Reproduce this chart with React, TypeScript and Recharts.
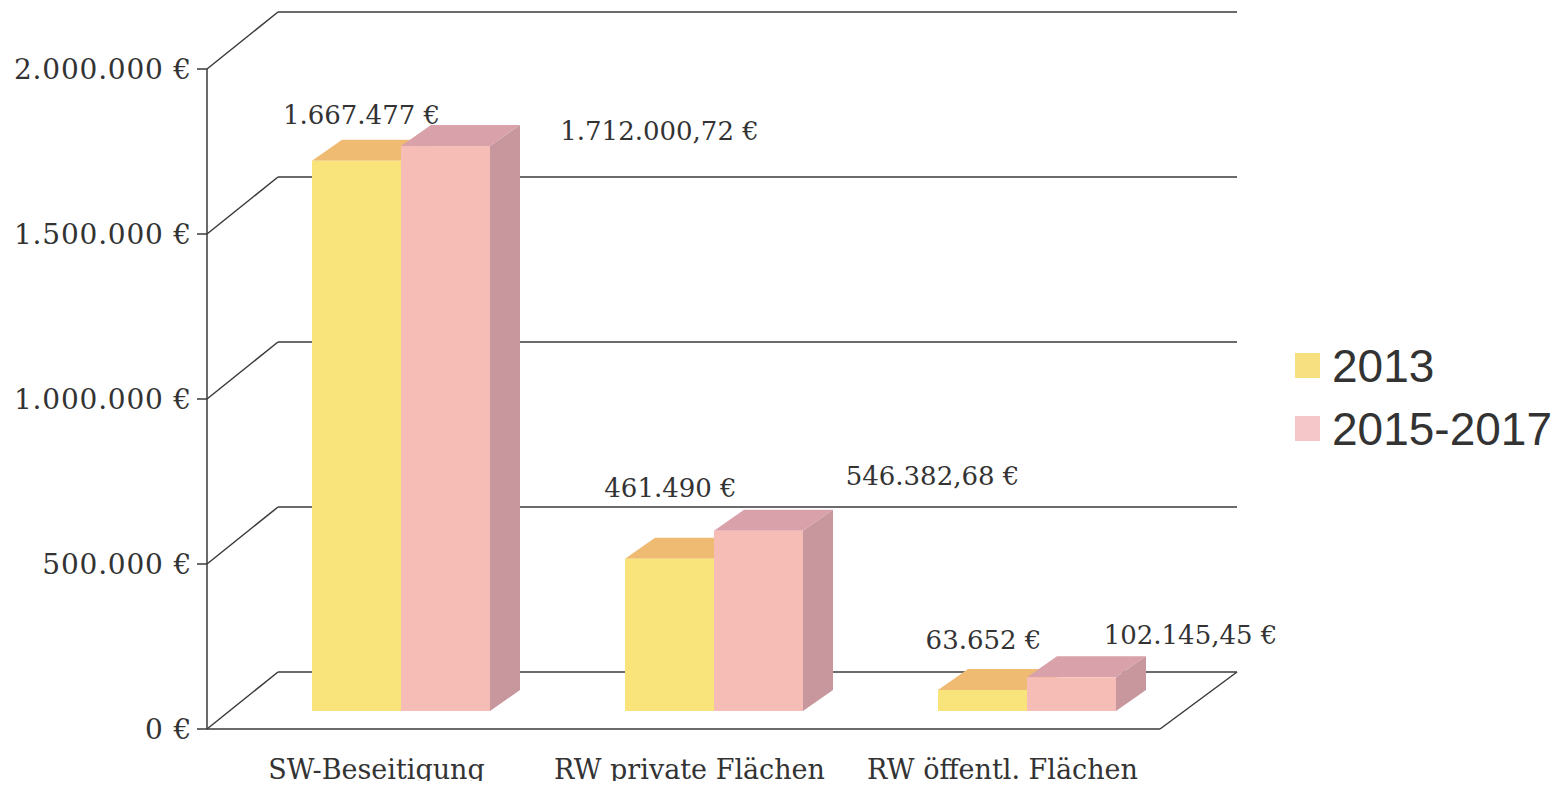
import React from 'react';
import { BarChart, Bar, XAxis, YAxis, CartesianGrid, ReferenceLine, Legend, LabelList } from 'recharts';

// ---------- data ----------
const categories = ['SW-Beseitigung', 'RW private Flächen', 'RW öffentl. Flächen'];
const values2013 = [1667477, 461490, 63652];
const values2015to2017 = [1712000.72, 546382.68, 102145.45];
const seriesNames = ['2013', '2015-2017'];
const yTicks = [0, 500000, 1000000, 1500000, 2000000];

const data = categories.map((c, i) => ({
  category: c,
  s2013: values2013[i],
  s2015: values2015to2017[i],
}));

// ---------- layout / style ----------
const W = 1550;
const H = 781;
const FRONT_X = 199;
const TICK_X0 = 189;
const BACK_X0 = 270;
const BACK_X1 = 1229;
const FRONT_X1 = 1152;
const FRONT_DY = 18;
const BACK_DY = -39;
const DEPTH_X = 30;
const DEPTH_Y = 21;
const LINE = '#3a3a3a';
const TEXT = '#333';
const SERIF = '"DejaVu Serif", "Liberation Serif", serif';
const SANS = '"Liberation Sans", Arial, sans-serif';

const COLORS = {
  s2013: { front: '#F9E47C', top: '#EFBB73', side: '#D8BF62', legend: '#F7E07F' },
  s2015: { front: '#F5BDB6', top: '#D9A2AA', side: '#C8979E', legend: '#F6C7C8' },
};

// label offsets relative to the bar's front-top centre
const LABEL_OFFSETS_2013 = [[5, -46], [1, -71], [1, -50]];
const LABEL_OFFSETS_2015 = [[214, -15], [174, -55], [119, -42]];

function formatEuro(v: number): string {
  const abs = Math.abs(v);
  const int = Math.floor(abs);
  const frac = Math.round((abs - int) * 100);
  const intStr = String(int).replace(/\B(?=(\d{3})+(?!\d))/g, '.');
  return (frac ? intStr + ',' + String(frac).padStart(2, '0') : intStr) + ' €';
}

const make3DBar = (c: { front: string; top: string; side: string }) => (props: any) => {
  const { x, y, width, height } = props;
  if (width == null || height == null || isNaN(x) || isNaN(y)) return <g />;
  return (
    <g>
      <polygon
        points={`${x},${y} ${x + DEPTH_X},${y - DEPTH_Y} ${x + width + DEPTH_X},${y - DEPTH_Y} ${x + width},${y}`}
        fill={c.top}
      />
      <polygon
        points={`${x + width},${y} ${x + width + DEPTH_X},${y - DEPTH_Y} ${x + width + DEPTH_X},${y + height - DEPTH_Y} ${x + width},${y + height}`}
        fill={c.side}
      />
      <rect x={x} y={y} width={width} height={height} fill={c.front} />
    </g>
  );
};

const makeLabel = (offsets: number[][]) => (props: any) => {
  const { x, y, width, value, index } = props;
  const o = offsets[index] || [0, -30];
  return (
    <text
      x={x + width / 2 + o[0]}
      y={y + o[1]}
      textAnchor="middle"
      dominantBaseline="central"
      fontFamily={SERIF}
      fontSize={26}
      fill={TEXT}
    >
      {formatEuro(Number(value))}
    </text>
  );
};

const GridLine = (props: any) => {
  const { y1, index } = props;
  const yf = y1 + FRONT_DY;
  const yb = y1 + BACK_DY;
  return (
    <g key={`grid-${index}`}>
      <line x1={FRONT_X} y1={yf} x2={BACK_X0} y2={yb} stroke={LINE} strokeWidth={1.5} />
      <line x1={BACK_X0} y1={yb} x2={BACK_X1} y2={yb} stroke={LINE} strokeWidth={1.5} />
    </g>
  );
};

const YTick = (props: any) => {
  const { y, payload } = props;
  const yf = y + FRONT_DY;
  return (
    <g>
      <line x1={TICK_X0} y1={yf} x2={FRONT_X} y2={yf} stroke={LINE} strokeWidth={1.5} />
      <text
        x={TICK_X0 - 5}
        y={yf}
        textAnchor="end"
        dominantBaseline="central"
        fontFamily={SERIF}
        fontSize={28}
        letterSpacing={0.8}
        fill={TEXT}
      >
        {formatEuro(payload.value)}
      </text>
    </g>
  );
};

const XTick = (props: any) => {
  const { x, y, payload } = props;
  return (
    <text
      x={x - 24}
      y={y + 50}
      textAnchor="middle"
      dominantBaseline="central"
      fontFamily={SERIF}
      fontSize={27}
      fill={TEXT}
    >
      {payload.value}
    </text>
  );
};

const FrontAxisShape = (props: any) => {
  const { y1, y2 } = props;
  return <line x1={FRONT_X} y1={y1 + FRONT_DY} x2={FRONT_X} y2={y2 + FRONT_DY} stroke={LINE} strokeWidth={1.5} />;
};

const FloorShape = (props: any) => {
  const { y1 } = props;
  const yf = y1 + FRONT_DY;
  const yb = y1 + BACK_DY;
  return (
    <g>
      <line x1={FRONT_X} y1={yf} x2={FRONT_X1} y2={yf} stroke={LINE} strokeWidth={1.5} />
      <line x1={FRONT_X1} y1={yf} x2={BACK_X1} y2={yb} stroke={LINE} strokeWidth={1.5} />
    </g>
  );
};

const LegendContent = () => (
  <div style={{ fontFamily: SANS, fontSize: 46, color: TEXT, whiteSpace: 'nowrap' }}>
    {seriesNames.map((name, i) => (
      <div key={name} style={{ display: 'flex', alignItems: 'center', height: 63 }}>
        <span
          style={{
            display: 'inline-block',
            width: 25,
            height: 25,
            marginRight: 12,
            flexShrink: 0,
            background: i === 0 ? COLORS.s2013.legend : COLORS.s2015.legend,
          }}
        />
        <span>{name}</span>
      </div>
    ))}
  </div>
);

export default function App() {
  return (
    <div style={{ width: W, height: H, background: '#fff', marginBottom: -8 }}>
      <BarChart
        width={W}
        height={H}
        data={data}
        margin={{ top: 43, right: 375, bottom: 48, left: 176 }}
        barGap={0}
      >
        <CartesianGrid vertical={false} horizontal={GridLine as any} />
        <XAxis
          dataKey="category"
          axisLine={false}
          tickLine={false}
          tick={<XTick />}
          height={30}
          interval={0}
        />
        <YAxis
          domain={[0, 2000000]}
          ticks={yTicks}
          axisLine={false}
          tickLine={false}
          tick={<YTick />}
          width={60}
          interval={0}
        />
        <ReferenceLine x={categories[0]} shape={FrontAxisShape as any} ifOverflow="visible" />
        <ReferenceLine y={0} shape={FloorShape as any} ifOverflow="visible" />
        <Legend
          layout="vertical"
          align="center"
          verticalAlign="middle"
          content={<LegendContent />}
          wrapperStyle={{ left: 1287, top: 326, width: 262 }}
        />
        <Bar
          dataKey="s2013"
          name={seriesNames[0]}
          barSize={89}
          isAnimationActive={false}
          shape={make3DBar(COLORS.s2013) as any}
        >
          <LabelList dataKey="s2013" content={makeLabel(LABEL_OFFSETS_2013) as any} />
        </Bar>
        <Bar
          dataKey="s2015"
          name={seriesNames[1]}
          barSize={89}
          isAnimationActive={false}
          shape={make3DBar(COLORS.s2015) as any}
        >
          <LabelList dataKey="s2015" content={makeLabel(LABEL_OFFSETS_2015) as any} />
        </Bar>
      </BarChart>
    </div>
  );
}
